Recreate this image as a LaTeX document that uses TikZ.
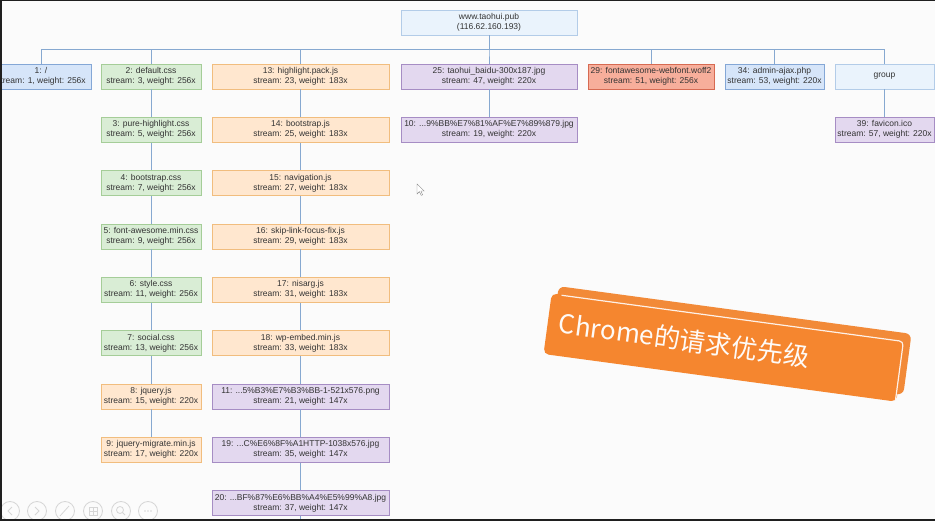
\documentclass[tikz,border=0pt]{standalone}
\usepackage{fontspec}
\setmainfont{Liberation Sans}
\newfontfamily\cjkfont{Noto Sans CJK SC}
\definecolor{bgc}{HTML}{FBFBFB}
\definecolor{linec}{HTML}{86A8D0}
\definecolor{bluef}{HTML}{D6E5F9}\definecolor{blued}{HTML}{84A7D6}
\definecolor{lbluef}{HTML}{EAF3FC}\definecolor{lblued}{HTML}{B3CCE8}
\definecolor{greenf}{HTML}{D9EDD5}\definecolor{greend}{HTML}{A5CD98}
\definecolor{orangef}{HTML}{FFE7CF}\definecolor{oranged}{HTML}{F1BD7E}
\definecolor{purplef}{HTML}{E3D8EF}\definecolor{purpled}{HTML}{A68DC4}
\definecolor{redf}{HTML}{F7AE9B}\definecolor{redd}{HTML}{D66A52}
\definecolor{bannerc}{HTML}{F5862F}\definecolor{bannerb}{HTML}{F28A38}
\definecolor{textc}{HTML}{333333}
\usetikzlibrary{calc}
\begin{document}
\begin{tikzpicture}[x=1pt,y=-1pt,
  box/.style={draw, line width=0.8pt, minimum height=25pt, inner sep=0pt, align=center,
    font=\fontsize{8.5}{10}\selectfont, text=textc},
  bluebox/.style={box, fill=bluef, draw=blued},
  lbluebox/.style={box, fill=lbluef, draw=lblued},
  greenbox/.style={box, fill=greenf, draw=greend, minimum width=100pt},
  orangebox/.style={box, fill=orangef, draw=oranged},
  purplebox/.style={box, fill=purplef, draw=purpled},
  redbox/.style={box, fill=redf, draw=redd},
  conn/.style={draw=linec, line width=0.8pt},
  ctrl/.style={draw=black!16, line width=0.8pt}]
\useasboundingbox (0,0) rectangle (935,521);
\clip (0,0) rectangle (935,521);
\fill[bgc] (0,0) rectangle (935,521);

% root
\node[lbluebox, minimum width=176pt] (root) at (489,22.5) {www.taohui.pub\\(116.62.160.193)};
\coordinate (bus) at (0,49.3);

% row 1
\node[bluebox, minimum width=100pt] (n1) at (41,76.5) {1: /\\stream: 1, weight: 256x};
\node[greenbox] (n2) at (151,76.5) {2: default.css\\stream: 3, weight: 256x};
\node[orangebox, minimum width=177pt] (n13) at (300.5,76.5) {13: highlight.pack.js\\stream: 23, weight: 183x};
\node[purplebox, minimum width=176pt] (n25) at (489,76.5) {25: taohui\_baidu-300x187.jpg\\stream: 47, weight: 220x};
\node[redbox, minimum width=126pt] (n29) at (651,76.5) {29: fontawesome-webfont.woff2\\stream: 51, weight: 256x};
\node[bluebox, minimum width=99pt] (n34) at (774.5,76.5) {34: admin-ajax.php\\stream: 53, weight: 220x};
\node[lbluebox, minimum width=99pt] (ngroup) at (884.5,76.5) {group};

% column 2
\node[greenbox] (n3) at (151,129.8) {3: pure-highlight.css\\stream: 5, weight: 256x};
\node[greenbox] (n4) at (151,183.2) {4: bootstrap.css\\stream: 7, weight: 256x};
\node[greenbox] (n5) at (151,236.5) {5: font-awesome.min.css\\stream: 9, weight: 256x};
\node[greenbox] (n6) at (151,289.8) {6: style.css\\stream: 11, weight: 256x};
\node[greenbox] (n7) at (151,343.2) {7: social.css\\stream: 13, weight: 256x};
\node[orangebox, minimum width=100pt] (n8) at (151,396.5) {8: jquery.js\\stream: 15, weight: 220x};
\node[orangebox, minimum width=100pt] (n9) at (151,449.8) {9: jquery-migrate.min.js\\stream: 17, weight: 220x};

% column 3
\node[orangebox, minimum width=177pt] (n14) at (300.5,129.8) {14: bootstrap.js\\stream: 25, weight: 183x};
\node[orangebox, minimum width=177pt] (n15) at (300.5,183.2) {15: navigation.js\\stream: 27, weight: 183x};
\node[orangebox, minimum width=177pt] (n16) at (300.5,236.5) {16: skip-link-focus-fix.js\\stream: 29, weight: 183x};
\node[orangebox, minimum width=177pt] (n17) at (300.5,289.8) {17: nisarg.js\\stream: 31, weight: 183x};
\node[orangebox, minimum width=177pt] (n18) at (300.5,343.2) {18: wp-embed.min.js\\stream: 33, weight: 183x};
\node[purplebox, minimum width=177pt] (n11) at (300.5,396.5) {11: ...5\%B3\%E7\%B3\%BB-1-521x576.png\\stream: 21, weight: 147x};
\node[purplebox, minimum width=177pt] (n19) at (300.5,449.8) {19: ...C\%E6\%8F\%A1HTTP-1038x576.jpg\\stream: 35, weight: 147x};
\node[purplebox, minimum width=177pt] (n20) at (300.5,503.2) {20: ...BF\%87\%E6\%BB\%A4\%E5\%99\%A8.jpg\\stream: 37, weight: 147x};
\coordinate (below20) at (300.5,530);

% column 4 and 7
\node[purplebox, minimum width=176pt] (n10) at (489,129.8) {10: ...9\%BB\%E7\%81\%AF\%E7\%89\%879.jpg\\stream: 19, weight: 220x};
\node[purplebox, minimum width=99pt] (n39) at (884.5,129.8) {39: favicon.ico\\stream: 57, weight: 220x};

% connectors
\begin{scope}[on background layer/.try]
\end{scope}
\foreach \c in {n1,n2,n13,n25,n29,n34,ngroup}
  \draw[conn] (root.south) -- (root.south |- bus) -| (\c.north);
\draw[conn] (n2) -- (n3) (n3) -- (n4) (n4) -- (n5) (n5) -- (n6) (n6) -- (n7) (n7) -- (n8) (n8) -- (n9);
\draw[conn] (n13) -- (n14) (n14) -- (n15) (n15) -- (n16) (n16) -- (n17) (n17) -- (n18) (n18) -- (n11) (n11) -- (n19) (n19) -- (n20) (n20) -- (below20);
\draw[conn] (n25) -- (n10);
\draw[conn] (ngroup) -- (n39);

% banner
\begin{scope}[shift={(724,347.5)}, rotate=-7.7]
  \fill[bannerb, rounded corners=6pt] (-172,-38.6) rectangle (184,23);
  \fill[bannerc, rounded corners=5pt] (-178,-30.6) rectangle (178,30.6);
  \draw[white!88!bannerc, line width=1.2pt, rounded corners=4pt] (-168,-30) -- (177,-30) -- (177,29);
  \node[transform shape, inner sep=0pt, anchor=west, text=white!96!bannerc,
        font=\cjkfont\fontsize{26}{26}\selectfont] (title) at (-167,-2) {Chrome的请求优先级};
\end{scope}

% mouse cursor
\filldraw[fill=white, draw=black!45, line width=0.4pt] (417,184) -- (417,194) -- (419.4,191.6) -- (421.2,195.4) -- (422.6,194.8) -- (420.9,191) -- (424.2,191) -- cycle;

% slideshow controls
\foreach \x in {10,37,65,93,121,148} \draw[ctrl] (\x,511) circle (9.5pt);
\draw[ctrl] (12,507) -- (8,511) -- (12,515);
\draw[ctrl] (35,507) -- (39,511) -- (35,515);
\draw[ctrl] (60,516) -- (69,506);
\draw[ctrl] (89,507) rectangle (97,515) (93,507) -- (93,515) (89,511) -- (97,511);
\draw[ctrl] (120,510) circle (3.5pt) (122.5,512.5) -- (125,515);
\foreach \d in {-3,0,3} \fill[black!16] (148+\d,511) circle (0.8pt);

% screen border
\fill[black!88] (0,518.5) rectangle (935,521);
\fill[black!88] (0,0) rectangle (1.5,521);
\fill[black!88] (0,0) rectangle (935,1);
\end{tikzpicture}
\end{document}
